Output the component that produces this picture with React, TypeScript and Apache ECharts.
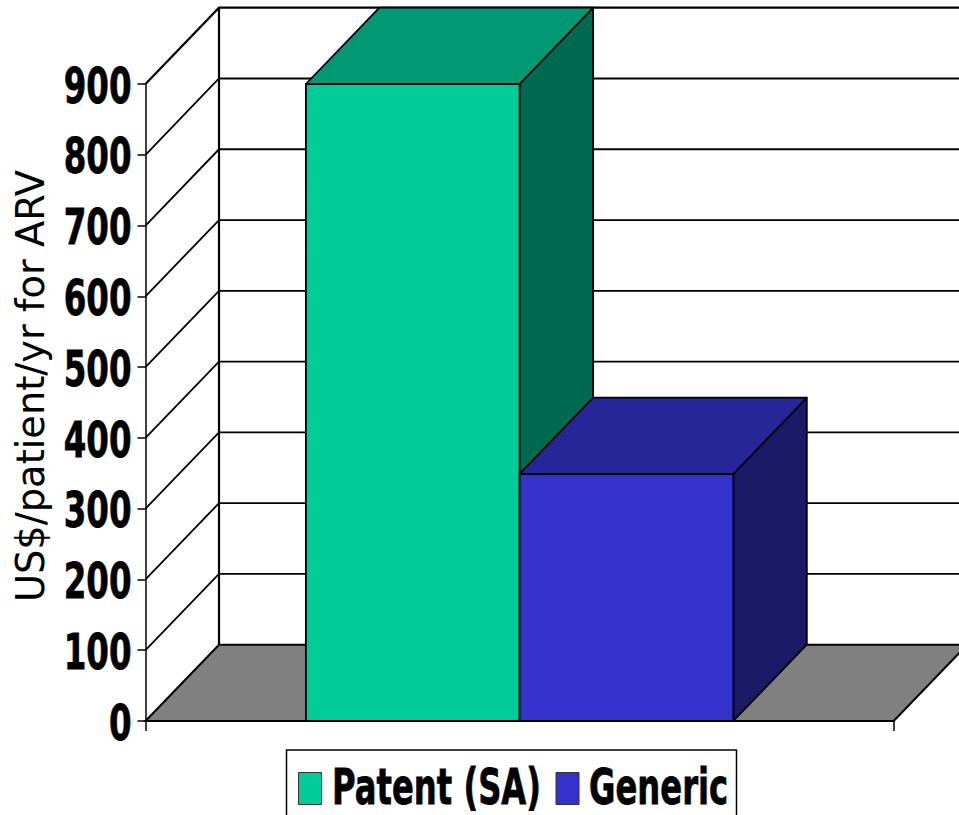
import React, { useEffect, useRef } from "react";
import * as echarts from "echarts";

const categories = [""];
const tickValues = [0, 100, 200, 300, 400, 500, 600, 700, 800, 900];
const patentValues = [900];
const genericValues = [349];
const axisTitle = "US$/patient/yr for ARV";
const seriesNames = ["Patent (SA)", "Generic"];

const DX = 73.5;
const DY = 76.3;
const BAR_W = 213.7;
const BOLD = '"DejaVu Sans", sans-serif';

const shade = (side: number, fill: string, top: string, right: string) =>
  (params: any, api: any) => {
    const x = api.coord([api.value(0), 0])[0];
    const x0 = side < 0 ? x - BAR_W : x;
    const x1 = side < 0 ? x : x + BAR_W;
    const yb = api.coord([api.value(0), 0])[1];
    const yt = api.coord([api.value(0), api.value(1)])[1];
    const st = (f: string) => ({ fill: f, stroke: "#000", lineWidth: 1.8, lineJoin: "round" });
    return {
      type: "group",
      children: [
        { type: "polygon", shape: { points: [[x1, yb], [x1 + DX, yb - DY], [x1 + DX, yt - DY], [x1, yt]] }, style: st(right) },
        { type: "polygon", shape: { points: [[x0, yt], [x0 + DX, yt - DY], [x1 + DX, yt - DY], [x1, yt]] }, style: st(top) },
        { type: "rect", shape: { x: x0, y: yt, width: x1 - x0, height: yb - yt }, style: st(fill) },
      ],
    };
  };

const squeezed = (text: string, x: number, y: number, align: string, scaleX: number) => ({
  type: "text",
  x,
  y,
  scaleX,
  z: 20,
  style: {
    text,
    fill: "#000",
    stroke: "#000",
    lineWidth: 0.8,
    fontFamily: BOLD,
    fontWeight: "bold",
    fontSize: 50,
    textAlign: align,
    textVerticalAlign: "middle",
  },
});

export default function App() {
  const ref = useRef<HTMLDivElement>(null);
  useEffect(() => {
    const chart = echarts.init(ref.current!, undefined, { renderer: "svg" });
    chart.setOption({
      animation: false,
      backgroundColor: "#fff",
      grid: { left: 145.5, right: 65.3, top: 84, bottom: 94, outerBoundsMode: "none" },
      legend: {
        data: seriesNames,
        icon: "rect",
        left: 286.5,
        top: 750,
        orient: "horizontal",
        backgroundColor: "#fff",
        borderColor: "#000",
        borderWidth: 1.5,
        padding: [22, 157, 22, 11.5],
        itemWidth: 23,
        itemHeight: 32,
        itemGap: 233.5,
        selectedMode: false,
        formatter: () => "",
        itemStyle: { borderColor: "#333", borderWidth: 1 },
        textStyle: { fontSize: 12 },
      },
      graphic: [
        squeezed(seriesNames[0], 332, 787, "left", 0.645),
        squeezed(seriesNames[1], 589, 787, "left", 0.645),
      ],
      xAxis: {
        type: "category",
        data: categories,
        axisLine: { show: true, lineStyle: { color: "#000", width: 2 } },
        axisTick: { show: true, length: 10, lineStyle: { color: "#000", width: 1.5 } },
        axisLabel: { show: false },
      },
      yAxis: {
        type: "value",
        min: 0,
        max: 900,
        interval: 100,
        name: axisTitle,
        nameLocation: "middle",
        nameRotate: 90,
        nameGap: 96,
        nameTextStyle: { fontFamily: "DejaVu Sans", fontSize: 38.4, color: "#000", padding: [0, 0, 0, 33] },
        axisLine: { show: true, lineStyle: { color: "#000", width: 1.5 } },
        axisTick: { show: true, length: 8, lineStyle: { color: "#000", width: 1.5 } },
        axisLabel: { show: false },
        splitLine: { show: false },
      },
      series: [
        {
          type: "custom",
          name: "floor",
          silent: true,
          data: [[0, 0]],
          renderItem: (params: any, api: any) => {
            const cs = params.coordSys;
            const yb = api.coord([0, 0])[1];
            return {
              type: "polygon",
              shape: { points: [[cs.x, yb], [cs.x + DX, yb - DY], [cs.x + cs.width + DX, yb - DY], [cs.x + cs.width, yb]] },
              style: { fill: "#808080", stroke: "#000", lineWidth: 2 },
            };
          },
        },
        {
          type: "custom",
          name: "walls",
          silent: true,
          data: tickValues.slice(1).map((v) => [0, v]),
          renderItem: (params: any, api: any) => {
            const cs = params.coordSys;
            const y = api.coord([0, api.value(1)])[1];
            const top = api.value(1) === 900;
            return {
              type: "polyline",
              shape: { points: [[cs.x, y], [cs.x + DX, y - DY], [cs.x + cs.width + DX, y - DY]] },
              style: { fill: "none", stroke: "#000", lineWidth: top ? 2.2 : 1.8 },
            };
          },
        },
        {
          type: "custom",
          name: "backEdge",
          silent: true,
          data: [[0, 900]],
          renderItem: (params: any, api: any) => {
            const cs = params.coordSys;
            return {
              type: "line",
              shape: { x1: cs.x + DX, y1: cs.y - DY, x2: cs.x + DX, y2: cs.y + cs.height - DY },
              style: { stroke: "#000", lineWidth: 2.2 },
            };
          },
        },
        {
          type: "custom",
          name: "tickLabels",
          silent: true,
          clip: false,
          data: tickValues.map((v) => [0, v]),
          renderItem: (params: any, api: any) => {
            const y = api.coord([0, api.value(1)])[1];
            return squeezed(String(api.value(1)), 131.5, y + 1.5, "right", 0.65);
          },
        },
        {
          type: "custom",
          name: seriesNames[0],
          itemStyle: { color: "#00CC99" },
          data: patentValues.map((v, i) => [i, v]),
          renderItem: shade(-1, "#00CC99", "#009973", "#006A50"),
        },
        {
          type: "custom",
          name: seriesNames[1],
          itemStyle: { color: "#3333CC" },
          data: genericValues.map((v, i) => [i, v]),
          renderItem: shade(1, "#3333CC", "#262699", "#1A1A66"),
        },
      ],
    });
    return () => chart.dispose();
  }, []);
  return <div ref={ref} style={{ position: "absolute", left: 0, top: 0, width: 959, height: 815, overflow: "hidden" }} />;
}
